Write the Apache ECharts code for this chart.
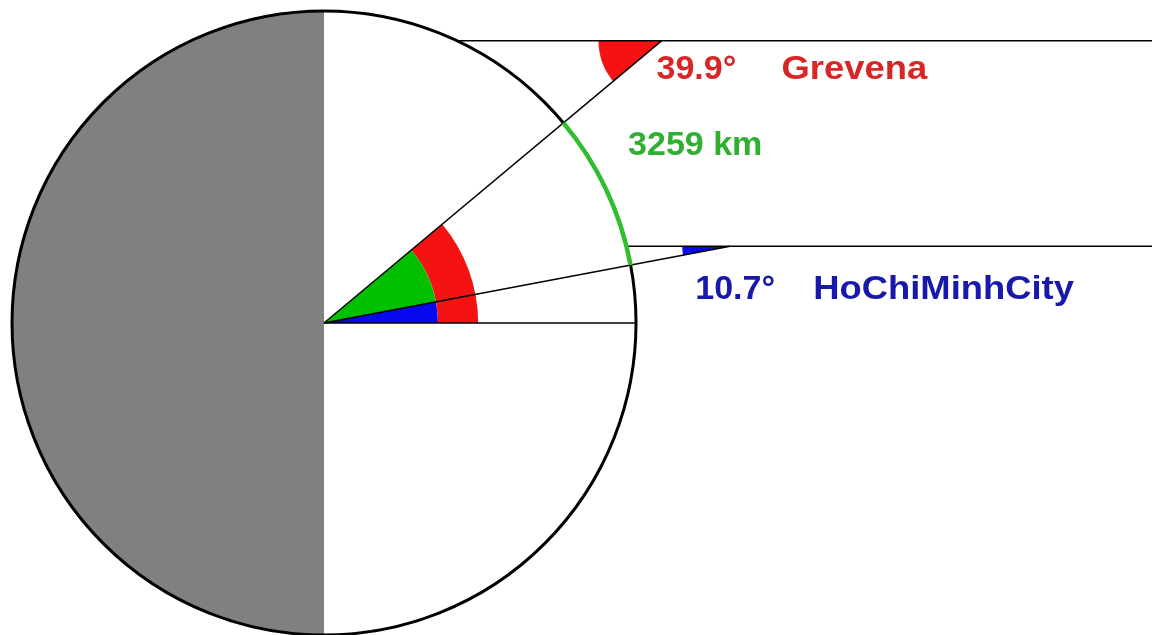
<!DOCTYPE html>
<html>
<head>
<meta charset="utf-8">
<script src="https://cdn.jsdelivr.net/npm/echarts@6/dist/echarts.min.js"></script>
<style>
  html, body { margin: 0; padding: 0; background: #fff; }
  #main { width: 1152px; height: 635px; }
</style>
</head>
<body>
<div id="main"></div>
<script>
// data
const cities = ['Grevena', 'HoChiMinhCity'];
const latitudes = [39.9, 10.7];          // degrees north
const rayReach = [1.41, 1.325];          // slanted line length, in earth radii
const arcLabels = ['3259 km'];           // distance along the meridian

// styles / layout
const cityColors = ['#d82626', '#1818aa'];
const wedgeColors = ['#f41212', '#0808ee'];
const vertexWedgeR = [63, 48];                    // px
const degLabelOffset = [[-5, 28.5], [-35, 43.5]]; // px from ray vertex
const nameLabelDx = [120, 83];
const FONT = 'bold 34px "Liberation Sans", Arial, sans-serif';

// axis window, 1 unit = earth radius
const X_MIN = -1.0385, X_MAX = 2.6538, Y_MIN = -1.0, Y_MAX = 1.0353;

const rad = d => d * Math.PI / 180;
const unit = api => api.coord([1, 0])[0] - api.coord([0, 0])[0];

const chart = echarts.init(document.getElementById('main'));

function renderEarth(params, api) {
  const c = api.coord([0, 0]);
  return {
    type: 'sector',
    shape: { cx: c[0], cy: c[1], r: unit(api), r0: 0, startAngle: Math.PI / 2, endAngle: Math.PI * 1.5, clockwise: true },
    style: { fill: '#808080' }
  };
}

// angle wedges at the centre: red = north city, blue = south city, green = difference
function renderAngles(params, api) {
  const c = api.coord([0, 0]);
  const r = unit(api);
  const from = api.value(0), to = api.value(1), kind = api.value(2);
  const outer = kind === 0 ? 0.494 : 0.365;
  const inner = kind === 0 ? 0.365 : 0;
  const fill = kind === 0 ? wedgeColors[0] : kind === 1 ? '#00c000' : wedgeColors[1];
  return {
    type: 'sector',
    shape: { cx: c[0], cy: c[1], r: outer * r, r0: inner * r, startAngle: -rad(to), endAngle: -rad(from), clockwise: true },
    style: { fill: fill }
  };
}

function renderCity(params, api) {
  const i = params.dataIndex;
  const lat = api.value(0);
  const reach = api.value(1);
  const phi = rad(lat);
  const o = api.coord([0, 0]);
  const v = api.coord([reach * Math.cos(phi), reach * Math.sin(phi)]);
  const h = reach * Math.sin(phi);
  const rayStart = api.coord([Math.sqrt(1 - h * h), h]);
  const rayEnd = api.coord([X_MAX, h]);
  return {
    type: 'group',
    children: [
      {
        type: 'sector',
        shape: { cx: v[0], cy: v[1], r: vertexWedgeR[i], r0: 0, startAngle: Math.PI - phi, endAngle: Math.PI, clockwise: true },
        style: { fill: wedgeColors[i] }
      },
      {
        type: 'line',
        shape: { x1: o[0], y1: o[1], x2: v[0], y2: v[1] },
        style: { stroke: '#000', lineWidth: 1.5 }
      },
      {
        type: 'line',
        shape: { x1: rayStart[0], y1: rayStart[1], x2: rayEnd[0], y2: rayEnd[1] },
        style: { stroke: '#000', lineWidth: 1.5 }
      },
      {
        type: 'text',
        x: v[0] + degLabelOffset[i][0], y: v[1] + degLabelOffset[i][1],
        style: { text: lat.toFixed(1) + '°', fill: cityColors[i], font: FONT, align: 'left', verticalAlign: 'middle' }
      },
      {
        type: 'text',
        x: v[0] + nameLabelDx[i], y: v[1] + degLabelOffset[i][1],
        scaleX: 1.07,
        style: { text: cities[i], fill: cityColors[i], font: FONT, align: 'left', verticalAlign: 'middle' }
      }
    ]
  };
}

function renderOutline(params, api) {
  const c = api.coord([0, 0]);
  const r = unit(api);
  const a0 = rad(api.value(0)), a1 = rad(api.value(1));
  const mid = (a0 + a1) / 2;
  const base = api.coord([1, 0]);
  return {
    type: 'group',
    children: [
      {
        type: 'line',
        shape: { x1: c[0], y1: c[1], x2: base[0], y2: base[1] },
        style: { stroke: '#000', lineWidth: 1.5 }
      },
      {
        type: 'circle',
        shape: { cx: c[0], cy: c[1], r: r },
        style: { fill: null, stroke: '#000', lineWidth: 3 }
      },
      {
        type: 'arc',
        shape: { cx: c[0], cy: c[1], r: r, startAngle: -a1, endAngle: -a0, clockwise: true },
        style: { fill: null, stroke: '#2ebe2e', lineWidth: 4.5 }
      },
      {
        type: 'text',
        x: c[0] + r * Math.cos(mid) + 22, y: c[1] - r * Math.sin(mid) - 44,
        style: { text: arcLabels[0], fill: '#30b030', font: FONT, align: 'left', verticalAlign: 'middle' }
      }
    ]
  };
}

const option = {
  animation: false,
  backgroundColor: '#fff',
  grid: { left: 0, right: 0, top: 0, bottom: 0 },
  xAxis: { type: 'value', min: X_MIN, max: X_MAX, show: false },
  yAxis: { type: 'value', min: Y_MIN, max: Y_MAX, show: false },
  series: [
    { type: 'custom', name: 'earth', z: 1, renderItem: renderEarth, data: [[0, 0]] },
    {
      type: 'custom', name: 'angles', z: 2, renderItem: renderAngles,
      data: [
        [0, latitudes[0], 0],
        [latitudes[1], latitudes[0], 1],
        [0, latitudes[1], 2]
      ]
    },
    {
      type: 'custom', name: 'cities', z: 3, renderItem: renderCity,
      data: latitudes.map((lat, i) => [lat, rayReach[i]])
    },
    {
      type: 'custom', name: 'outline', z: 4, renderItem: renderOutline,
      data: [[latitudes[1], latitudes[0]]]
    }
  ]
};
chart.setOption(option);
</script>
</body>
</html>
